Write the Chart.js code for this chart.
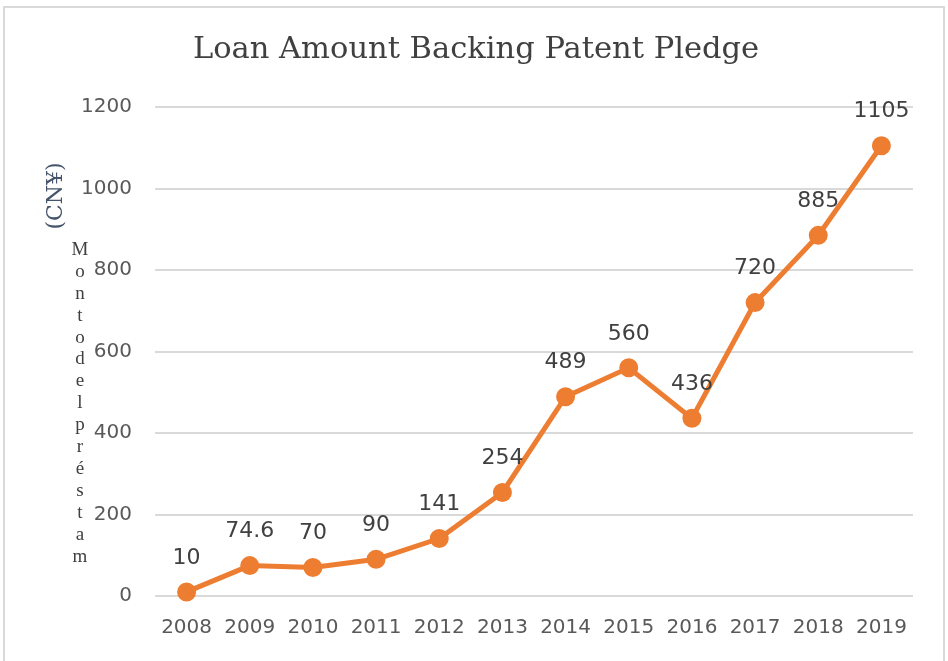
<!DOCTYPE html>
<html>
<head>
<meta charset="utf-8">
<script src="https://cdn.jsdelivr.net/npm/chart.js@4"></script>
<style>
html,body{margin:0;padding:0;background:#fff;}
#wrap{position:relative;width:948px;height:661px;}
</style>
</head>
<body>
<div id="wrap"><canvas id="c" width="948" height="661"></canvas></div>
<script>
const titleText = 'Loan Amount Backing Patent Pledge';
const years = ['2008','2009','2010','2011','2012','2013','2014','2015','2016','2017','2018','2019'];
const loanAmount = [10, 74.6, 70, 90, 141, 254, 489, 560, 436, 720, 885, 1105];
const valueLabels = ['10','74.6','70','90','141','254','489','560','436','720','885','1105'];
const yAxisUnit = '(CN¥)';
const overlayLetters = ['M','o','n','t','o','d','e','l','p','r','é','s','t','a','m'];

const decor = {
  id: 'decor',
  beforeDraw(chart) {
    const ctx = chart.ctx;
    ctx.save();
    ctx.fillStyle = '#fff';
    ctx.fillRect(0, 0, chart.width, chart.height);
    ctx.strokeStyle = '#d9d9d9';
    ctx.lineWidth = 2;
    ctx.strokeRect(4, 7, 940, 700);
    // title
    ctx.font = '30.5px "DejaVu Serif"';
    ctx.fillStyle = '#404040';
    ctx.textAlign = 'center';
    ctx.textBaseline = 'middle';
    ctx.fillText(titleText, 476, 50);
    ctx.restore();
  },
  afterDatasetsDraw(chart) {
    const ctx = chart.ctx;
    const meta = chart.getDatasetMeta(0);
    ctx.save();
    ctx.font = '22px "DejaVu Sans"';
    ctx.fillStyle = '#404040';
    ctx.textAlign = 'center';
    ctx.textBaseline = 'middle';
    meta.data.forEach((pt, i) => {
      ctx.fillText(valueLabels[i], pt.x, pt.y - 34);
    });
    // rotated unit label
    ctx.translate(56, 196);
    ctx.rotate(-Math.PI / 2);
    ctx.font = '22px "DejaVu Serif"';
    ctx.fillStyle = '#44546A';
    ctx.fillText(yAxisUnit, 0, 0);
    ctx.restore();
    // stacked overlay letters
    ctx.save();
    ctx.font = '19px "Liberation Serif"';
    ctx.fillStyle = '#404040';
    ctx.textAlign = 'center';
    ctx.textBaseline = 'middle';
    overlayLetters.forEach((ch, i) => {
      ctx.fillText(ch, 80, 250 + i * 21.9);
    });
    ctx.restore();
  }
};

new Chart(document.getElementById('c'), {
  type: 'line',
  data: {
    labels: years,
    datasets: [{
      data: loanAmount,
      borderColor: '#ED7D31',
      backgroundColor: '#ED7D31',
      borderWidth: 5,
      pointRadius: 7,
      pointHoverRadius: 7,
      pointBackgroundColor: '#ED7D31',
      pointBorderColor: '#ED7D31',
      tension: 0,
      clip: false
    }]
  },
  options: {
    responsive: false,
    animation: false,
    devicePixelRatio: 1,
    layout: { padding: { left: 0, right: 35, top: 107, bottom: 0 } },
    plugins: {
      legend: { display: false },
      tooltip: { enabled: false },
      title: { display: false }
    },
    scales: {
      x: {
        offset: true,
        grid: { display: false, drawTicks: false },
        border: { display: false },
        ticks: { color: '#595959', font: { family: '"DejaVu Sans"', size: 20 }, padding: 20, maxRotation: 0 },
        afterFit(scale) { scale.height = 65; }
      },
      y: {
        min: 0, max: 1200,
        ticks: {
          stepSize: 200, color: '#595959', font: { family: '"DejaVu Sans"', size: 20 }, padding: 23,
          callback: (v) => String(v)
        },
        grid: { color: '#d9d9d9', lineWidth: 2, drawTicks: false },
        border: { display: false },
        afterFit(scale) { scale.width = 155; }
      }
    }
  },
  plugins: [decor]
});
</script>
</body>
</html>
